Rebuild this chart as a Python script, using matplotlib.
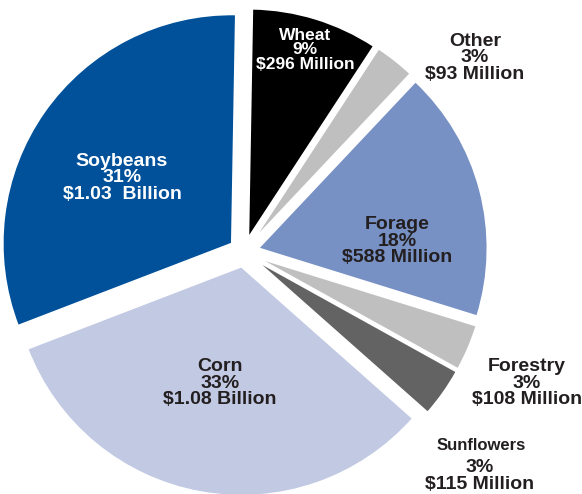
import matplotlib
matplotlib.use("Agg")
import matplotlib.pyplot as plt

# Crop values (million dollars), clockwise from the top
crops = ["Wheat", "Other", "Forage", "Forestry", "Sunflowers", "Corn", "Soybeans"]
values = [296, 93, 588, 108, 115, 1080, 1030]
pct_labels = ["9%", "3%", "18%", "3%", "3%", "33%", "31%"]
value_labels = ["$296 Million", "$93 Million", "$588 Million", "$108 Million",
                "$115 Million", "$1.08 Billion", "$1.03  Billion"]

colors = ["#000000", "#bfbfbf", "#7891c5", "#bfbfbf", "#636363", "#c2c9e3", "#00519a"]
text_colors = ["white", "#231f20", "#231f20", "#231f20", "#231f20", "#231f20", "white"]

plt.rcParams["font.family"] = ["Liberation Sans", "DejaVu Sans"]

W, H = 582, 494
fig = plt.figure(figsize=(W / 100, H / 100), dpi=100)
ax = fig.add_axes([0, 0, 1, 1])

# pie centre and radius in pixels
cx, cy, R = 244, 252, 229

ax.pie(values, colors=colors, startangle=89, counterclock=False,
       explode=[0.065] * len(values), radius=1,
       wedgeprops=dict(edgecolor="white", linewidth=1.2))

ax.set_xlim(-cx / R, (W - cx) / R)
ax.set_ylim(-(H - cy) / R, cy / R)
ax.set_aspect("equal")
ax.axis("off")


def to_data(px, py):
    return (px - cx) / R, (cy - py) / R


# label block centres in pixels, with font size
label_pos = {
    "Wheat": (305, 50, 12.5),
    "Other": (475, 58, 14),
    "Forage": (397, 241, 14),
    "Forestry": (527, 383, 14),
    "Corn": (220, 383, 14),
    "Soybeans": (122, 178, 14),
}

ls = 0.97
for name, pct, val, tc in zip(crops, pct_labels, value_labels, text_colors):
    if name == "Sunflowers":
        x, y = to_data(481, 446)
        ax.text(x, y, name, ha="center", va="center", fontsize=12,
                fontweight="bold", color=tc)
        x, y = to_data(480, 476)
        ax.text(x, y, f"{pct}\n{val}", ha="center", va="center", fontsize=14,
                fontweight="bold", color=tc, linespacing=ls)
        continue
    px, py, fs = label_pos[name]
    x, y = to_data(px, py)
    ax.text(x, y, f"{name}\n{pct}\n{val}", ha="center", va="center",
            fontsize=fs, fontweight="bold", color=tc, linespacing=ls)

fig.savefig("out.png", dpi=100)
